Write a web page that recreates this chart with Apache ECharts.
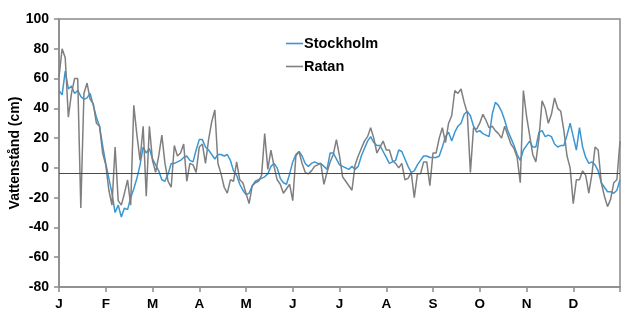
<!DOCTYPE html>
<html>
<head>
<meta charset="utf-8">
<script src="https://cdn.jsdelivr.net/npm/echarts@6/dist/echarts.min.js"></script>
<style>
html,body{margin:0;padding:0;background:#fff;}
#chart{width:638px;height:331px;}
</style>
</head>
<body>
<div id="chart"></div>
<script>
// Month tick labels (uniform month ticks, 15 samples per month)
const monthLabels = ['J','F','M','A','M','J','J','A','S','O','N','D'];
// Sample index (every second day of the year)
const sampleDays = Array.from({length: 181}, (_, i) => i * 2 + 1);

// Stockholm water level (cm), every second day
const stockholm = [
  52, 49, 65, 53, 55, 50, 52, 48, 46, 47, 50, 42, 34, 28, 15,
  3, -7, -17, -30, -25, -33, -27, -28, -20, -14, -7, 2, 14, 10, 13,
  6, 2, -2, -8, -9, -4, 3, 3, 4, 5, 7, 8, 5, 4, 12,
  19, 19, 14, 12, 9, 6, 9, 9, 8, 9, 5, -2, -5, -11, -15,
  -18, -17, -12, -9, -8, -7, -6, -4, 1, 3, 0, -7, -10, -11, -4,
  4, 9, 11, 8, 3, 1, 3, 4, 3, 3, 1, -1, 10, 10, 6,
  2, 1, 0, -1, 1, -1, 1, 8, 13, 18, 21, 17, 15, 15, 11,
  7, 3, 4, 5, 12, 11, 6, 1, -3, -2, 2, 5, 8, 8, 7,
  7, 7, 8, 14, 21, 24, 18, 24, 28, 30, 36, 38, 35, 28, 24,
  25, 23, 22, 21, 36, 44, 42, 38, 32, 25, 20, 15, 9, 5, 12,
  15, 18, 14, 14, 24, 25, 21, 22, 21, 16, 14, 15, 15, 22, 30,
  21, 12, 27, 14, 7, 3, 4, 2, -2, -10, -13, -16, -16, -17, -15,
  -8
];

// Ratan water level (cm), every second day
const ratan = [
  61, 80, 74, 34, 50, 60, 60, -27, 50, 57, 46, 43, 30, 28, 10,
  2, -15, -25, 14, -22, -25, -17, -8, -25, 42, 22, 5, 28, -19, 28,
  5, -3, 8, 22, 3, -9, -13, 15, 8, 10, 16, -9, 3, 2, -3,
  14, 16, 3, 19, 31, 39, 3, -4, -13, -17, -8, -9, 4, -8, -10,
  -17, -24, -12, -10, -9, -5, 23, -1, 12, 1, -8, -11, -17, -14, -11,
  -22, 8, 11, 3, -3, -4, -2, 1, 2, 3, -11, -3, 4, 9, 19,
  8, -6, -9, -12, -15, 2, 8, 13, 18, 21, 27, 20, 10, 14, 18,
  12, 12, 5, 3, 0, 3, -8, -7, -3, -20, -4, -4, 4, 4, -12,
  10, 10, 20, 27, 17, 30, 35, 52, 50, 53, 44, 37, -3, 27, 26,
  30, 36, 32, 27, 28, 25, 23, 20, 28, 22, 16, 13, 7, -10, 52,
  35, 22, 9, 4, 20, 45, 40, 30, 36, 47, 40, 38, 25, 8, 0,
  -24, -8, -8, -2, -5, -17, -4, 14, 12, -10, -19, -26, -21, -10, -8,
  18
];

const referenceLevel = -3.5;
const stockholmColor = '#3a97d3';
const ratanColor = '#7f7f7f';

const chart = echarts.init(document.getElementById('chart'), null, {renderer: 'canvas'});
const font = '"Liberation Sans", Arial, sans-serif';
chart.setOption({
  animation: false,
  backgroundColor: '#fff',
  grid: {left: 59, right: 18, top: 19, bottom: 44, show: true, borderColor: '#8a8a8a', borderWidth: 1.5,
         containLabel: false, outerBoundsMode: 'none'},
  legend: {
    orient: 'vertical', left: 281, top: 31, itemWidth: 17, itemHeight: 1.6, itemGap: 8,
    icon: 'rect',
    textStyle: {fontFamily: font, fontWeight: 'bold', fontSize: 14.5, color: '#000', padding: [0, 0, 0, -4], height: 14},
    data: [
      {name: 'Stockholm', itemStyle: {color: stockholmColor}},
      {name: 'Ratan', itemStyle: {color: ratanColor}}
    ]
  },
  xAxis: {
    type: 'category', data: sampleDays, boundaryGap: false,
    axisLine: {onZero: false, lineStyle: {color: '#8a8a8a', width: 1.5}},
    axisTick: {interval: 14, length: 5, lineStyle: {color: '#8a8a8a', width: 1.5}},
    axisLabel: {
      interval: 14, margin: 10, fontFamily: font, fontWeight: 'bold', fontSize: 13.5, color: '#000',
      formatter: (v, i) => monthLabels[i / 15] || ''
    },
    splitLine: {show: false}
  },
  yAxis: {
    type: 'value', min: -80, max: 100, interval: 20,
    name: 'Vattenstånd (cm)', nameLocation: 'middle', nameGap: 37, nameRotate: 90,
    nameMoveOverlap: false,
    nameTextStyle: {fontFamily: font, fontWeight: 'bold', fontSize: 14, color: '#000'},
    axisLine: {show: true, onZero: false, lineStyle: {color: '#8a8a8a', width: 1.5}},
    axisTick: {show: true, length: 5, lineStyle: {color: '#8a8a8a', width: 1.5}},
    axisLabel: {fontFamily: font, fontWeight: 'bold', fontSize: 14, color: '#000', margin: 10},
    splitLine: {show: false}
  },
  series: [
    {
      name: 'Stockholm', type: 'line', data: stockholm, symbol: 'none', smooth: false,
      lineStyle: {color: stockholmColor, width: 1.5}, itemStyle: {color: stockholmColor},
      markLine: {
        silent: true, symbol: 'none', label: {show: false},
        lineStyle: {color: '#4a4a4a', width: 1.2, type: 'solid'},
        data: [{yAxis: referenceLevel}]
      }
    },
    {
      name: 'Ratan', type: 'line', data: ratan, symbol: 'none', smooth: false,
      lineStyle: {color: ratanColor, width: 1.5}, itemStyle: {color: ratanColor}
    }
  ]
});
</script>
</body>
</html>
